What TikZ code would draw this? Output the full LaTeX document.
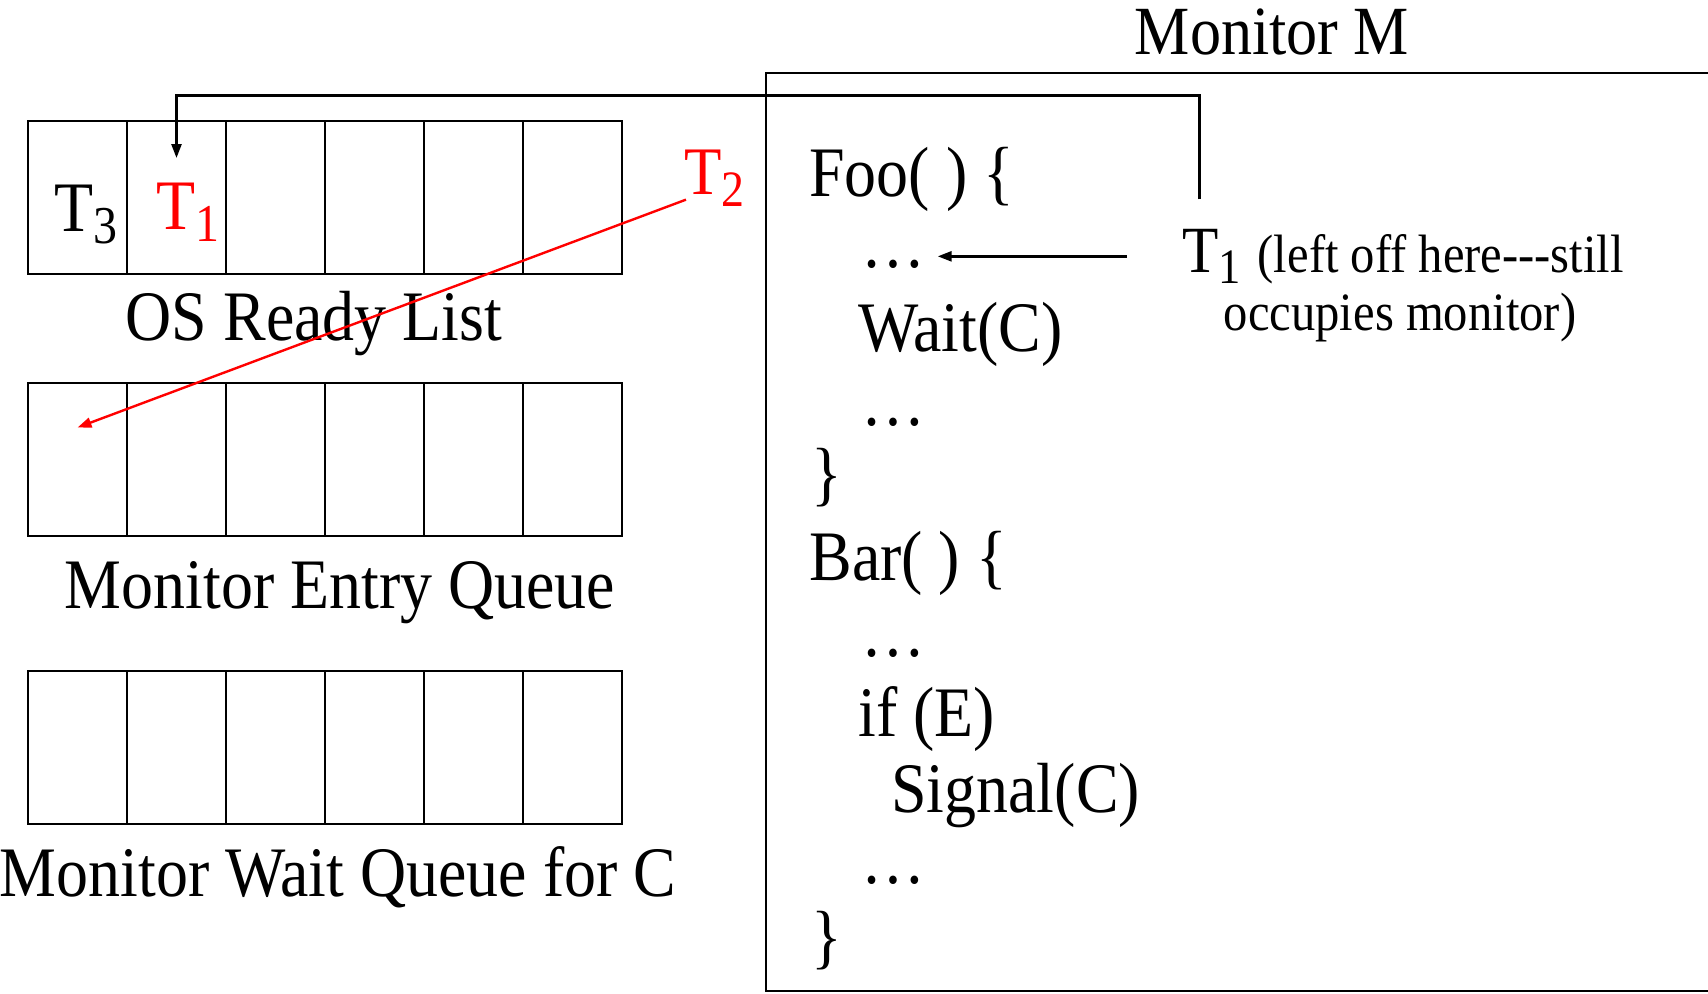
\documentclass[tikz,border=0pt]{standalone}
\usepackage{fontspec}
\setmainfont{Liberation Serif}[FakeStretch=0.9]
\usepackage{graphicx}
\usetikzlibrary{positioning, arrows.meta}
\newcommand{\tname}[1]{T\raisebox{-0.18em}{\scalebox{0.75}{#1}}}

\begin{document}
\begin{tikzpicture}[x=0.5pt, y=-0.5pt,
	cell/.style={draw, line width=1.2pt, minimum width=49.5pt, minimum height=76.5pt, inner sep=0pt, outer sep=0pt, anchor=north west},
	lbl/.style={inner sep=0pt, font=\fontsize{35.5}{40}\selectfont},
	code/.style={lbl, anchor=base west},
	note/.style={inner sep=0pt, font=\fontsize{27}{30}\selectfont},
	flow/.style={-{Triangle[length=7pt,width=5pt]}, line width=1.25pt},
	move/.style={-{Triangle[length=7pt,width=5pt]}, line width=1.2pt, red}]
	\useasboundingbox (0,0) rectangle (1708,993);
	\clip (0,0) rectangle (1708,993);
	% queues
	\foreach \q/\y in {rdy/121, ent/383, wt/671}
		\foreach \i in {1,...,6}
			\node[cell] (\q\i) at ({28+99*(\i-1)},\y) {};
	\node[lbl, anchor=base] (rdylbl) at (314,340) {OS Ready List};
	\node[lbl, anchor=base] (entlbl) at (340,608) {Monitor Entry Queue};
	\node[lbl, anchor=base] (wtlbl) at (338,896) {Monitor Wait Queue for C};
	\node[code] (t3) at (54,231) {\tname{3}};
	\node[code, red] (t1old) at (156,229) {\tname{1}};
	\node[code, red, font=\fontsize{34}{40}\selectfont] (t2) at (684,194) {\tname{2}};
	% monitor
	\draw[line width=1.2pt] (766,73) rectangle (1712,991);
	\node[lbl, anchor=base, font=\fontsize{34.5}{40}\selectfont] (mon) at (1272,54) {Monitor M};
	\node[code] (foo) at (809,196) {Foo( ) \{};
	\node[code] (dots1) at (861,267) {…};
	\node[code] (wait) at (858,351) {Wait(C)};
	\node[code] (dots2) at (861,425) {…};
	\node[code] (close1) at (811,497) {\}};
	\node[code] (bar) at (809,580) {Bar( ) \{};
	\node[code] (dots3) at (861,656) {…};
	\node[code] (ifE) at (858,736) {if (E)};
	\node[code] (signal) at (891,812) {Signal(C)};
	\node[code] (dots4) at (861,883) {…};
	\node[code] (close2) at (811,960) {\}};
	\node[code, font=\fontsize{33}{40}\selectfont] (t1) at (1182,272) {\tname{1}};
	\node[note, base right=8pt of t1] (leftoff) {(left off here-{}-{}-still};
	\node[note, anchor=base] (occ) at (1400,330) {occupies monitor)};
	\coordinate (ent1in) at ([yshift=16pt]ent1.center);
	\draw[flow, shorten <=27.5pt, shorten >=6pt] (t1.west) -- (t1.west -| dots1.east);
	\draw[flow] ([xshift=-6pt,yshift=14.5pt]t1.north) -- ++(0,-104) -| ([yshift=-18.5pt]rdy2.north);
	\draw[move] ([xshift=1pt,yshift=3.5pt]t2.south west) -- (ent1in);
\end{tikzpicture}
\end{document}
